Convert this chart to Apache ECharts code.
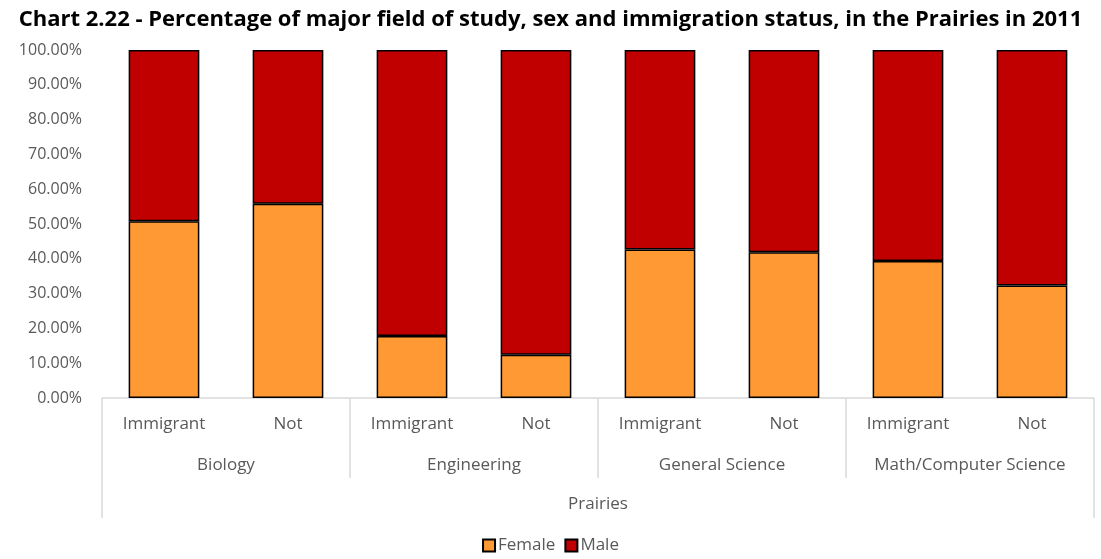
<!DOCTYPE html>
<html>
<head>
<meta charset="utf-8">
<script src="https://cdn.jsdelivr.net/npm/echarts@6/dist/echarts.min.js"></script>
<style>
  html, body { margin: 0; padding: 0; background: #fff; }
  #chart_1 { width: 1101px; height: 559px; }
</style>
</head>
<body>
<div id="chart_1"></div>
<script>
var statusLabels = ['Immigrant', 'Not', 'Immigrant', 'Not', 'Immigrant', 'Not', 'Immigrant', 'Not'];
var fieldLabels = ['Biology', 'Engineering', 'General Science', 'Math/Computer Science'];
var regionLabels = ['Prairies'];

// percent female
var femaleData = [50.8, 55.8, 17.8, 12.4, 42.7, 41.9, 39.4, 32.3];
var maleData = [];
for (var i = 0; i < femaleData.length; i++) {
    maleData.push(+(100 - femaleData[i]).toFixed(1));
}

var lineGray = '#d9d9d9';
var textGray = '#595959';
var fontName = 'Open Sans';

var myChart = echarts.init(document.getElementById('chart_1'));

var option = {
    animation: false,
    title: {
        text: 'Chart 2.22 - Percentage of major field of study, sex and immigration status, in the Prairies in 2011',
        left: 'center',
        top: 4,
        textStyle: {
            fontFamily: fontName,
            fontWeight: 'bold',
            fontSize: 22,
            color: '#000'
        }
    },
    legend: {
        top: 537,
        left: 'center',
        padding: 0,
        itemWidth: 12,
        itemHeight: 12,
        itemGap: 9,
        icon: 'rect',
        textStyle: { fontFamily: fontName, fontSize: 17, color: textGray, padding: [0, 0, 0, -2] },
        data: ['Female', 'Male']
    },
    grid: {
        left: 102,
        right: 7,
        top: 50,
        bottom: 161
    },
    xAxis: [
        {
            type: 'category',
            data: statusLabels,
            axisLine: { show: true, lineStyle: { color: lineGray, width: 1.5 } },
            axisTick: { show: false },
            axisLabel: { interval: 0, margin: 18, color: textGray, fontFamily: fontName, fontSize: 17 }
        },
        {
            type: 'category',
            data: fieldLabels,
            position: 'bottom',
            axisLine: { show: false },
            axisTick: { show: true, interval: 0, length: 80, lineStyle: { color: lineGray, width: 1.5 } },
            axisLabel: { interval: 0, margin: 59, color: textGray, fontFamily: fontName, fontSize: 17 }
        },
        {
            type: 'category',
            data: regionLabels,
            position: 'bottom',
            axisLine: { show: false },
            axisTick: { show: true, interval: 0, length: 120, lineStyle: { color: lineGray, width: 1.5 } },
            axisLabel: { interval: 0, margin: 98, color: textGray, fontFamily: fontName, fontSize: 17 }
        }
    ],
    yAxis: {
        type: 'value',
        min: 0,
        max: 100,
        interval: 10,
        splitLine: { show: false },
        axisLine: { show: false },
        axisTick: { show: false },
        axisLabel: {
            margin: 20,
            color: textGray,
            fontFamily: fontName,
            fontSize: 16,
            formatter: function (v) { return v.toFixed(2) + '%'; }
        }
    },
    series: [
        {
            name: 'Female',
            type: 'bar',
            stack: 'total',
            barCategoryGap: '43%',
            data: femaleData,
            itemStyle: { color: '#ff9933', borderColor: '#000', borderWidth: 1.5 }
        },
        {
            name: 'Male',
            type: 'bar',
            stack: 'total',
            barCategoryGap: '43%',
            data: maleData,
            itemStyle: { color: '#c00000', borderColor: '#000', borderWidth: 1.5 }
        }
    ]
};

myChart.setOption(option);
window.addEventListener('resize', function () {
    myChart.resize();
});
</script>
</body>
</html>
